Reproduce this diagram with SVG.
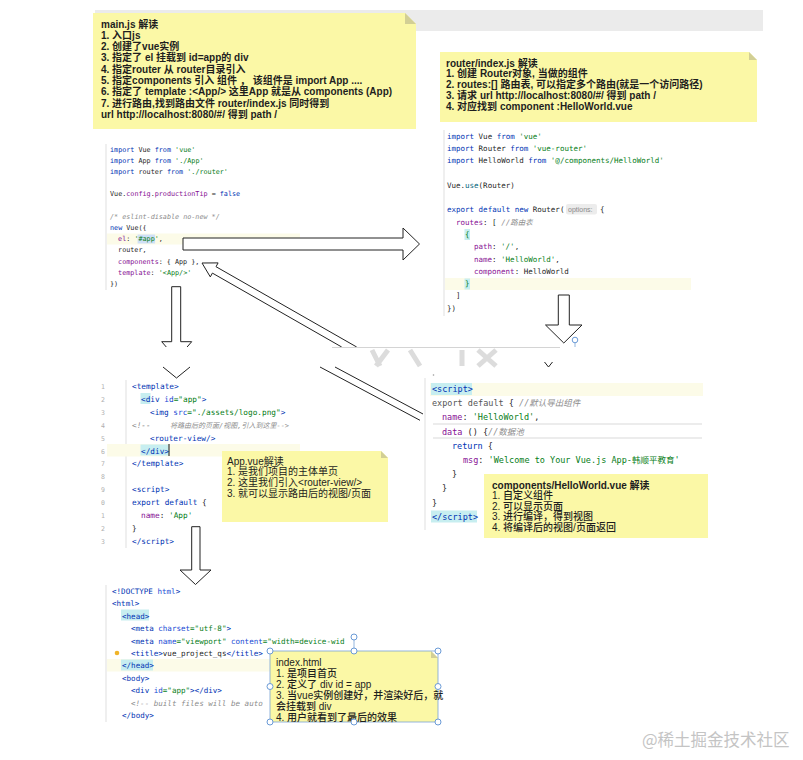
<svg xmlns="http://www.w3.org/2000/svg" width="803" height="760" viewBox="0 0 803 760">
<style>
.note{fill:#fbf8a6}
.fold{fill:#d2cf95}
.nt{font-family:"Liberation Sans","Noto Sans CJK SC",sans-serif;font-size:10px;fill:#1e1e1e}
.b{font-weight:bold}
.m{font-weight:500}
.code{font-family:"DejaVu Sans Mono","Noto Sans CJK SC",monospace;fill:#1f1f1f}
.k{fill:#0033b3}
.s{fill:#067d17}
.p{fill:#871094}
.cm{fill:#8c8c8c;font-style:italic}
.fnc{fill:#00627a}
.at{fill:#174ad4}
.ln{font-family:"DejaVu Sans Mono",monospace;font-size:6.5px;fill:#b0b0b0}
.gut{stroke:#e4e4e4;stroke-width:1.2}
.hl{fill:#fcfbe8}
.tb{fill:#c7eef0}
.arr{fill:#fff;stroke:#222;stroke-width:1}
.arrl{fill:none;stroke:#222;stroke-width:1}
.hd{fill:#fff;stroke:#6a9ad6;stroke-width:1}
</style>
<rect width="803" height="760" fill="#fff"/>
<rect x="95" y="10" width="668" height="21" fill="#ebebeb"/>

<g id="note-main">
<path class="note" d="M93,13 H405 L416,24 V129 H93 Z"/>
<path class="fold" d="M405,13 L416,24 H405 Z"/>
<g class="nt b" font-size="9.9">
<text x="101" y="27.5">main.js 解读</text>
<text x="101" y="38.8">1. 入口js</text>
<text x="101" y="50.1">2. 创建了vue实例</text>
<text x="101" y="61.4">3. 指定了 el  挂载到 id=app的 div</text>
<text x="101" y="72.7">4. 指定router  从 router目录引入</text>
<text x="101" y="84">5. 指定components 引入 组件 ， 该组件是 import  App ....</text>
<text x="101" y="95.3">6. 指定了 template :&lt;App/&gt; 这里App 就是从 components (App)</text>
<text x="101" y="106.6">7. 进行路由,找到路由文件  router/index.js 同时得到</text>
<text x="101" y="117.9">url http://localhost:8080/#/ 得到 path /</text>
</g>
</g>

<g id="note-router">
<path class="note" d="M440,52 H749 L757,60 V122 H440 Z"/>
<path class="fold" d="M749,52 L757,60 H749 Z"/>
<g class="nt b" font-size="9.45">
<text x="446" y="66.5">router/index.js 解读</text>
<text x="446" y="77.3">1. 创建 Router对象, 当做的组件</text>
<text x="446" y="88.1">2. routes:[] 路由表, 可以指定多个路由(就是一个访问路径)</text>
<text x="446" y="98.9">3. 请求 url http://localhost:8080/#/ 得到 path /</text>
<text x="446" y="109.7">4. 对应找到 component :HelloWorld.vue</text>
</g>
</g>

<g id="code-main" class="code" font-size="6.75">
<line class="gut" x1="106" y1="144" x2="106" y2="290"/>
<rect class="hl" x="107" y="233.5" width="193" height="11"/>
<rect x="137.6" y="234.5" width="17.5" height="9" fill="#cfe0f7"/>
<text x="110" y="151.5"><tspan class="k">import</tspan> Vue <tspan class="k">from</tspan> <tspan class="s">'vue'</tspan></text>
<text x="110" y="162.7"><tspan class="k">import</tspan> App <tspan class="k">from</tspan> <tspan class="s">'./App'</tspan></text>
<text x="110" y="173.9"><tspan class="k">import</tspan> router <tspan class="k">from</tspan> <tspan class="s">'./router'</tspan></text>
<text x="110" y="196.3">Vue.<tspan class="p">config</tspan>.<tspan class="p">productionTip</tspan> = <tspan class="k">false</tspan></text>
<text x="110" y="218.7" class="cm">/* eslint-disable no-new */</text>
<text x="110" y="229.9"><tspan class="k">new</tspan> Vue({</text>
<text x="118.1" y="241.1"><tspan class="p">el</tspan>: <tspan class="s">'#app'</tspan>,</text>
<text x="118.1" y="252.3">router,</text>
<text x="118.1" y="263.5"><tspan class="p">components</tspan>: { App },</text>
<text x="118.1" y="274.7"><tspan class="p">template</tspan>: <tspan class="s">'&lt;App/&gt;'</tspan></text>
<text x="110" y="285.9">})</text>
</g>

<g id="code-router" class="code" font-size="7.5">
<line class="gut" x1="444" y1="130" x2="444" y2="316"/>
<rect class="hl" x="445" y="278" width="246" height="12"/>
<rect x="566" y="204" width="31" height="10.5" rx="2" fill="#ececec"/>
<rect x="464.5" y="229" width="5.5" height="11" class="tb"/>
<rect x="464.5" y="278.5" width="5.5" height="11" class="tb"/>
<text x="447" y="138.5"><tspan class="k">import</tspan> Vue <tspan class="k">from</tspan> <tspan class="s">'vue'</tspan></text>
<text x="447" y="150.8"><tspan class="k">import</tspan> Router <tspan class="k">from</tspan> <tspan class="s">'vue-router'</tspan></text>
<text x="447" y="163.1"><tspan class="k">import</tspan> HelloWorld <tspan class="k">from</tspan> <tspan class="s">'@/components/HelloWorld'</tspan></text>
<text x="447" y="187.7">Vue.<tspan class="fnc">use</tspan>(Router)</text>
<text x="447" y="212.3"><tspan class="k">export default new</tspan> Router(</text>
<text x="568" y="211.8" font-family="Liberation Sans,sans-serif" font-size="7" fill="#8a8a8a">options:</text>
<text x="600" y="212.3">{</text>
<text x="456" y="224.6"><tspan class="p">routes</tspan>: [ <tspan class="cm">//路由表</tspan></text>
<text x="465" y="236.9" class="s">{</text>
<text x="474" y="249.2"><tspan class="p">path</tspan>: <tspan class="s">'/'</tspan>,</text>
<text x="474" y="261.5"><tspan class="p">name</tspan>: <tspan class="s">'HelloWorld'</tspan>,</text>
<text x="474" y="273.8"><tspan class="p">component</tspan>: HelloWorld</text>
<text x="465" y="286.1" class="s">}</text>
<text x="456" y="298.4">]</text>
<text x="447" y="310.7">})</text>
</g>

<g id="code-app" class="code" font-size="7.75">
<line class="gut" x1="126" y1="380" x2="126" y2="548"/>
<rect class="hl" x="107" y="444" width="193" height="12.5"/>
<rect x="140.5" y="393" width="10" height="11" class="tb"/>
<rect x="140.5" y="444.5" width="28" height="11" class="tb"/>
<line x1="169" y1="444" x2="169" y2="456" stroke="#111" stroke-width="1"/>
<text class="ln" x="101" y="389">1</text>
<text class="ln" x="101" y="401.9">2</text>
<text class="ln" x="101" y="414.8">3</text>
<text class="ln" x="101" y="427.7">4</text>
<text class="ln" x="101" y="440.6">5</text>
<text class="ln" x="101" y="453.5">6</text>
<text class="ln" x="101" y="466.4">7</text>
<text class="ln" x="101" y="479.3">8</text>
<text class="ln" x="101" y="492.2">9</text>
<text class="ln" x="101" y="505.1">0</text>
<text class="ln" x="101" y="518">1</text>
<text class="ln" x="101" y="530.9">2</text>
<text class="ln" x="101" y="543.8">3</text>
<text x="132" y="389" class="k">&lt;template&gt;</text>
<text x="141" y="401.9"><tspan class="k">&lt;div</tspan> <tspan class="at">id</tspan><tspan class="s">="app"</tspan><tspan class="k">&gt;</tspan></text>
<text x="150" y="414.8"><tspan class="k">&lt;img</tspan> <tspan class="at">src</tspan><tspan class="s">="./assets/logo.png"</tspan><tspan class="k">&gt;</tspan></text>
<text x="132" y="427.7" class="cm">&lt;!--</text>
<text x="170" y="427.7" class="cm" font-size="7">将路由后的页面/视图,引入到这里--&gt;</text>
<text x="150" y="440.6" class="k">&lt;router-view/&gt;</text>
<text x="141" y="453.5" class="k">&lt;/div&gt;</text>
<text x="132" y="466.4" class="k">&lt;/template&gt;</text>
<text x="132" y="492.2" class="k">&lt;script&gt;</text>
<text x="132" y="505.1"><tspan class="k">export default</tspan> {</text>
<text x="141" y="518"><tspan class="p">name</tspan>: <tspan class="s">'App'</tspan></text>
<text x="132" y="530.9">}</text>
<text x="132" y="543.8" class="k">&lt;/script&gt;</text>
</g>

<g id="note-app">
<path class="note" d="M222,451 H381 L388,458 V522 H222 Z"/>
<path class="fold" d="M381,451 L388,458 H381 Z"/>
<g class="nt" font-size="9.6">
<text x="227" y="464.8">App.vue解读</text>
<text x="227" y="475.4">1. 是我们项目的主体单页</text>
<text x="227" y="486">2. 这里我们引入&lt;router-view/&gt;</text>
<text x="227" y="496.6">3. 就可以显示路由后的视图/页面</text>
</g>
</g>

<g id="code-hello" class="code" font-size="8.5">
<line class="gut" x1="425" y1="378" x2="425" y2="530"/>
<rect class="hl" x="430" y="383" width="273" height="13"/>
<rect x="431" y="383" width="41" height="12" class="tb"/>
<rect x="431" y="510.5" width="46" height="12" class="tb"/>
<line x1="433" y1="424" x2="702" y2="424" stroke="#cfcfcf" stroke-width="0.8"/>
<line x1="433" y1="438" x2="702" y2="438" stroke="#cfcfcf" stroke-width="0.8"/>
<circle cx="433.5" cy="375" r="0.8" fill="#999"/>
<text x="432" y="392" class="k">&lt;script&gt;</text>
<text x="432" y="406.2"><tspan fill="#555">export default</tspan> { <tspan class="cm">//默认导出组件</tspan></text>
<text x="442" y="420.4"><tspan class="p">name</tspan>: <tspan class="s">'HelloWorld'</tspan>,</text>
<text x="442" y="434.6"><tspan class="p">data</tspan> () {<tspan class="cm">//数据池</tspan></text>
<text x="452" y="448.8"><tspan class="k">return</tspan> {</text>
<text x="463" y="463"><tspan class="p">msg</tspan>: <tspan class="s">'Welcome to Your Vue.js App-韩顺平教育'</tspan></text>
<text x="452" y="477.2">}</text>
<text x="442" y="491.4">}</text>
<text x="432" y="505.6">}</text>
<text x="432" y="519.8" class="k">&lt;/script&gt;</text>
</g>

<g id="note-hello">
<rect class="note" x="484" y="474" width="224" height="64"/>
<g class="nt" font-size="9.1">
<text class="b" x="492" y="488.5">components/HelloWorld.vue 解读</text>
<text class="m" x="492" y="499.1">1. 自定义组件</text>
<text class="m" x="492" y="509.7">2. 可以显示页面</text>
<text class="m" x="492" y="520.3">3. 进行编译，得到视图</text>
<text class="m" x="492" y="530.9">4. 将编译后的视图/页面返回</text>
</g>
</g>

<g id="code-index" class="code" font-size="7.55">
<line class="gut" x1="106" y1="585" x2="106" y2="722"/>
<rect class="hl" x="107" y="659" width="163" height="12.5"/>
<rect x="121" y="609.5" width="28" height="11" class="tb"/>
<rect x="121" y="659.5" width="32" height="11" class="tb"/>
<circle cx="117" cy="653" r="2.3" fill="#f0b429"/>
<text x="112" y="594"><tspan class="k">&lt;!DOCTYPE</tspan> <tspan class="at">html</tspan><tspan class="k">&gt;</tspan></text>
<text x="112" y="606.4" class="k">&lt;html&gt;</text>
<text x="122" y="618.8" class="k">&lt;head&gt;</text>
<text x="131" y="631.2"><tspan class="k">&lt;meta</tspan> <tspan class="at">charset</tspan><tspan class="s">="utf-8"</tspan><tspan class="k">&gt;</tspan></text>
<text x="131" y="643.6"><tspan class="k">&lt;meta</tspan> <tspan class="at">name</tspan><tspan class="s">="viewport"</tspan> <tspan class="at">content</tspan><tspan class="s">="width=device-wid</tspan></text>
<text x="131" y="656"><tspan class="k">&lt;title&gt;</tspan>vue_project_qs<tspan class="k">&lt;/title&gt;</tspan></text>
<text x="122" y="668.4" class="k">&lt;/head&gt;</text>
<text x="122" y="680.8" class="k">&lt;body&gt;</text>
<text x="131" y="693.2"><tspan class="k">&lt;div</tspan> <tspan class="at">id</tspan><tspan class="s">="app"</tspan><tspan class="k">&gt;&lt;/div&gt;</tspan></text>
<text x="131" y="705.6" class="cm">&lt;!-- built files will be auto</text>
<text x="122" y="718" class="k">&lt;/body&gt;</text>
</g>

<g id="note-index">
<path class="note" d="M270,651 H431 L438,658 V722 H270 Z"/>
<path class="fold" d="M431,651 L438,658 H431 Z"/>
<rect x="270" y="651" width="168" height="71" fill="none" stroke="#7aa3d6" stroke-width="0.8"/>
<g class="nt m" font-size="9">
<text x="276" y="666">index.html</text>
<text x="276" y="676.9">1. 是项目首页</text>
<text x="276" y="687.8">2. 定义了 div id = app</text>
<text x="276" y="698.7">3. 当vue实例创建好，并渲染好后，就</text>
<text x="276" y="709.6">会挂载到 div</text>
<text x="276" y="720.5">4. 用户就看到了最后的效果</text>
</g>
<line x1="354" y1="640" x2="354" y2="651" stroke="#7aa3d6" stroke-width="0.8"/>
<circle class="hd" cx="354" cy="637" r="3"/>
<circle class="hd" cx="270" cy="651" r="3"/>
<circle class="hd" cx="354" cy="651" r="3"/>
<circle class="hd" cx="438" cy="651" r="3"/>
<circle class="hd" cx="270" cy="686.5" r="3"/>
<circle class="hd" cx="438" cy="686.5" r="3"/>
<circle class="hd" cx="270" cy="722" r="3"/>
<circle class="hd" cx="354" cy="722" r="3"/>
<circle class="hd" cx="438" cy="722" r="3"/>
</g>

<g id="connectors">
<path class="arr" d="M183,238 H403 V228 L419.5,244 L403,260 V250 H183 Z"/>
<path class="arrl" d="M171.7,286.7 H180.7 V341.7 H191.7 L187.1,347 M171.7,286.7 V341.7 H161.7 L166.3,347"/>
<path class="arrl" d="M163,367 L176.5,378 L190,367"/>
<path class="arr" d="M558.3,295 H569.3 V325 H582 L563.8,343 L545.5,325 H558.3 Z"/>
<path class="arrl" d="M544.5,362 L548.5,367 L552.5,362"/>
<line x1="575" y1="343" x2="575" y2="347" stroke="#7aa3d6" stroke-width="0.8"/>
<circle class="hd" cx="575" cy="340" r="2.8"/>
<path class="arrl" d="M356.7,347 L216,266.7 L218.1,262.9 L202,263 L210.3,276.9 L212.4,273.1 L341.7,347"/>
<path class="arrl" d="M320,367 L420,420.3 M335,367 L423,414"/>
<path class="arr" d="M191.7,526.7 H200 V570 H211 L195.5,584.5 L180,570 H191.7 Z"/>
</g>

<line x1="332" y1="347.5" x2="560" y2="347.5" stroke="#d4d4d4" stroke-width="1"/>
<g fill="none" stroke="#dcdcdc" stroke-width="5">
<path d="M372,350 L380,366 M388,350 L376,366"/>
<path d="M410,350 L420,366"/>
<path d="M462,350 V366 M478,350 L496,366 M496,350 L478,366"/>
</g>

<text x="642" y="746" font-family="Noto Sans CJK SC,sans-serif" font-size="16.5" fill="#c4c4c4">@稀土掘金技术社区</text>
</svg>
